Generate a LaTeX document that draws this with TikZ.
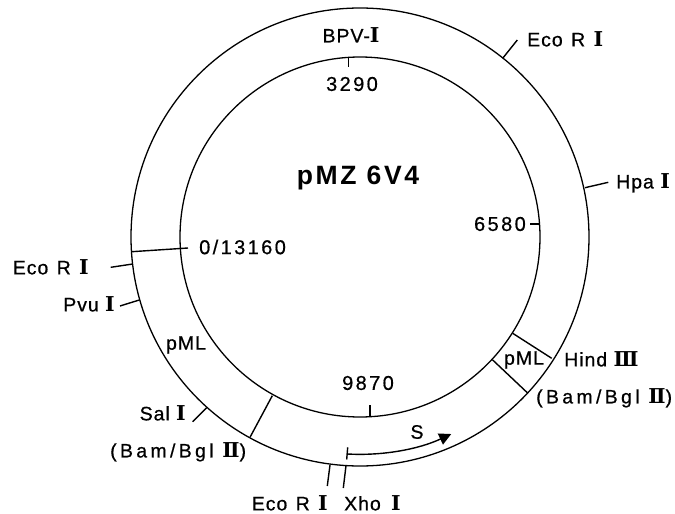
\documentclass[tikz,border=0pt]{standalone}
\usepackage{fontspec}
\setmainfont{Liberation Sans}
\newfontfamily\numfont{DejaVu Serif}[Scale=1.05]
\usetikzlibrary{arrows.meta}
\newcommand{\rI}{{\numfont\bfseries Ⅰ}}
\newcommand{\rII}{{\numfont\bfseries Ⅱ}}
\newcommand{\rIII}{{\numfont\bfseries Ⅲ}}
\tikzset{
  ring/.style={draw=black,line width=1.3pt},
  seg/.style={draw=black,line width=1.4pt},
  lab/.style={inner sep=0pt,font=\fontsize{19.5}{22}\selectfont\addfontfeatures{LetterSpace=5,FakeBold=0.6},text=black},
  wide/.style={inner sep=0pt,font=\fontsize{19.5}{22}\selectfont\addfontfeatures{LetterSpace=17,FakeBold=0.6},text=black},
  num/.style={inner sep=0pt,font=\fontsize{20}{22}\selectfont\addfontfeatures{LetterSpace=12,FakeBold=0.6},text=black},
}
\begin{document}
\begin{tikzpicture}[x=1pt,y=-1pt]
\useasboundingbox (0,0) rectangle (675,514);
\coordinate (c) at (360,237);
\draw[ring] (c) circle[radius=229];
\draw[ring] (c) circle[radius=180];
% ring segment boundaries
\coordinate (o0) at (131.7,251.7); \coordinate (i0) at (188,248);
\coordinate (o1) at (250,437.3);   \coordinate (i1) at (272.3,395.7);
\coordinate (o2) at (527.3,392.7); \coordinate (i2) at (492.7,360);
\coordinate (o3) at (551.7,358.3); \coordinate (i3) at (512.7,333.3);
\draw[seg] (o0)--(i0);
\draw[seg] (o1)--(i1);
\draw[seg] (o2)--(i2);
\draw[seg] (o3)--(i3);
% labels
\node[lab] (bpv) at (351,35) {BPV-\rI};
\node[num] (n3290) at (352,84) {3290};
\node[inner sep=0pt,font=\bfseries\fontsize{26.5}{28}\selectfont\addfontfeatures{LetterSpace=10}] (title) at (358,178) {pMZ 6V4};
\node[num,anchor=east] (n6580) at (526,224) {6580};
\node[num,anchor=west] (n0) at (199,247) {0/13160};
\node[num] (n9870) at (368,383) {9870};
\node[lab,anchor=west] (eco1) at (527,39) {Eco\hspace{2pt} R\hspace{2pt} \rI};
\node[lab,anchor=west] (hpa) at (616,183) {Hpa \rI};
\node[lab,anchor=west] (hind) at (564,359) {Hind \rIII};
\node[wide,anchor=west] (bam1) at (536,398) {(Bam/Bgl \rII)};
\node[lab,anchor=east] (eco2) at (89,267) {Eco\hspace{2pt} R\hspace{2pt} \rI};
\node[lab,anchor=east] (pvu) at (115,304) {Pvu \rI};
\node[lab,anchor=east] (sal) at (186,413) {Sal \rI};
\node[wide,anchor=west] (bam2) at (110,452) {(Bam/Bgl \rII)};
\node[lab,anchor=east] (eco3) at (328,503) {Eco\hspace{2pt} R\hspace{2pt} \rI};
\node[lab,anchor=west] (xho) at (344,503) {Xho\hspace{4pt} \rI};
\node[lab] (pml1) at (186,345) {pML};
\node[lab] (pml2) at (524,360) {pML};
\node[lab] (s) at (417,432) {S};
% ticks
\coordinate (a1) at (502.7,58.3);  \coordinate (b1) at (517.3,40);
\coordinate (a2) at (585,187.7);   \coordinate (b2) at (608.3,182.3);
\coordinate (a3) at (348.3,57);    \coordinate (b3) at (348.3,67);
\coordinate (a4) at (540,224);     \coordinate (b4) at (530,224);
\coordinate (a5) at (132.7,264);   \coordinate (b5) at (110.7,267.3);
\coordinate (a6) at (139.3,300);   \coordinate (b6) at (120,306);
\coordinate (a7) at (206.7,407.7); \coordinate (b7) at (192.7,421.7);
\coordinate (a8) at (330,465);     \coordinate (b8) at (327.3,486);
\coordinate (a9) at (346,465.7);   \coordinate (b9) at (343.3,488);
\coordinate (a10) at (370,417);    \coordinate (b10) at (370,405);
\foreach \k in {1,...,10} \draw[seg] (a\k)--(b\k);
% S arrow
\coordinate (sb1) at (347.7,447.3); \coordinate (sb2) at (346.7,459.5);
\draw[seg] (sb1)--(sb2);
\draw[seg,-{Triangle[length=12pt,width=12pt]}] (347.4,454) arc[start angle=93.2,end angle=65,radius=217];
\end{tikzpicture}
\end{document}
